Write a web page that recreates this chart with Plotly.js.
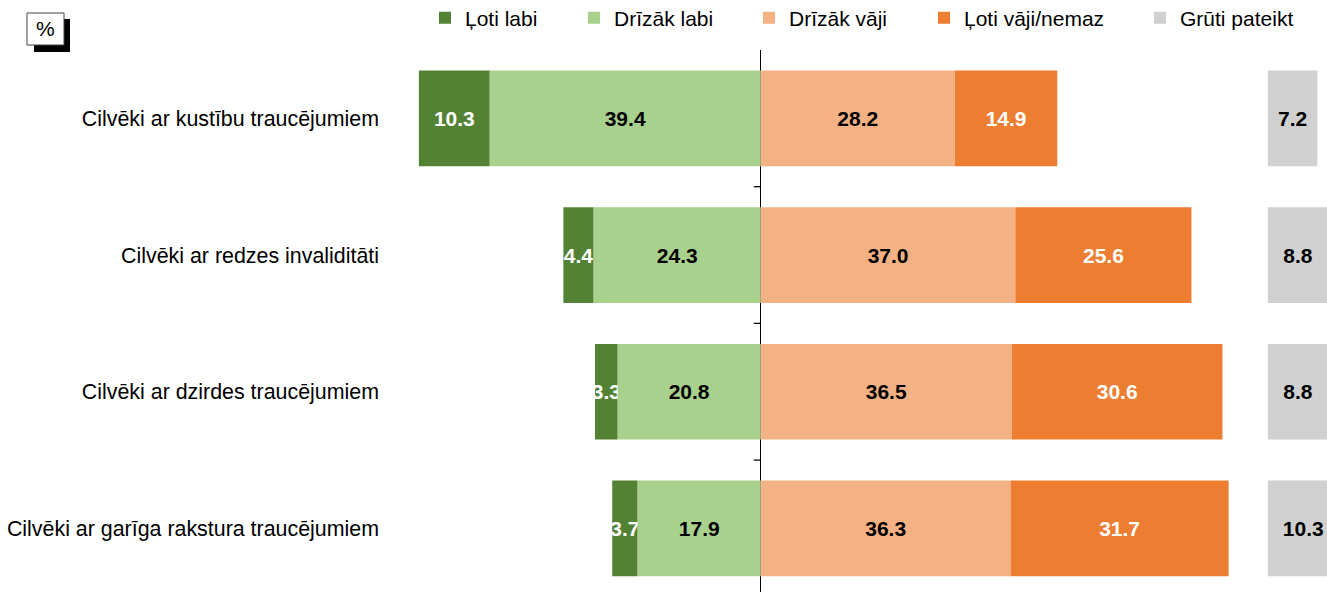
<!DOCTYPE html>
<html><head><meta charset="utf-8">
<script src="https://cdn.plot.ly/plotly-3.0.1.min.js"></script>
<style>html,body{margin:0;padding:0;background:#fff}#chart{width:1327px;height:592px}</style>
</head><body><div id="chart"></div>
<script>
const categories = ["Cilvēki ar kustību traucējumiem","Cilvēki ar redzes invaliditāti","Cilvēki ar dzirdes traucējumiem","Cilvēki ar garīga rakstura traucējumiem"];
const seriesNames = ["Ļoti labi","Drīzāk labi","Drīzāk vāji","Ļoti vāji/nemaz","Grūti pateikt"];
const lotiLabi = [10.3, 4.4, 3.3, 3.7];
const drizakLabi = [39.4, 24.3, 20.8, 17.9];
const drizakVaji = [28.2, 37.0, 36.5, 36.3];
const lotiVaji = [14.9, 25.6, 30.6, 31.7];
const grutiPateikt = [7.2, 8.8, 8.8, 10.3];

const W = 1327, H = 592;
const M = {l: 390, r: 0, t: 50, b: 0};
const PW = W - M.l - M.r, PH = H - M.t - M.b;
const XR = [-53.9, 82.3];
const GREY_BASE = 73.7;
const px2x = p => (p - M.l) / PW;
const py2y = p => (H - M.b - p) / PH;
const fmt = a => a.map(v => v.toFixed(1));
const neg = a => a.map(v => -v);
const FONT = 'Liberation Sans, Arial, sans-serif';
const colors = ['#548235','#A9D18E','#F4B183','#ED7D31','#D0D0D0'];
const txtCol = ['#ffffff','#000000','#000000','#ffffff','#000000'];

function bar(i, x, base, text, legendId) {
  return {
    type: 'bar', orientation: 'h', name: seriesNames[i], y: categories, x: x, base: base,
    text: text, texttemplate: '%{text}', textposition: 'inside', insidetextanchor: 'middle',
    textangle: 0, constraintext: 'none',
    textfont: {family: FONT, size: 21, color: txtCol[i], weight: 'bold'},
    insidetextfont: {family: FONT, size: 21, color: txtCol[i], weight: 'bold'},
    marker: {color: colors[i], line: {width: 0}},
    legend: legendId, hoverinfo: 'skip'
  };
}

const traces = [
  bar(0, neg(lotiLabi), neg(drizakLabi), fmt(lotiLabi), 'legend'),
  bar(1, neg(drizakLabi), categories.map(() => 0), fmt(drizakLabi), 'legend2'),
  bar(2, drizakVaji, categories.map(() => 0), fmt(drizakVaji), 'legend3'),
  bar(3, lotiVaji, drizakVaji, fmt(lotiVaji), 'legend4'),
  bar(4, grutiPateikt, categories.map(() => GREY_BASE), fmt(grutiPateikt), 'legend5')
];

const legendTextStart = [465, 614, 789, 964, 1180];
function leg(i) {
  return {
    xref: 'container', yref: 'container', x: (legendTextStart[i] - 40) / W, xanchor: 'left',
    y: 1 - 18 / H, yanchor: 'middle', orientation: 'h', bgcolor: 'rgba(0,0,0,0)', borderwidth: 0,
    font: {family: FONT, size: 21, color: '#000'}
  };
}

const shapes = [
  {type: 'rect', xref: 'paper', yref: 'paper', x0: px2x(34), x1: px2x(70), y0: py2y(19), y1: py2y(52), fillcolor: '#000', line: {width: 0}, layer: 'above'},
  {type: 'rect', xref: 'paper', yref: 'paper', x0: px2x(27), x1: px2x(64), y0: py2y(13), y1: py2y(45), fillcolor: '#fff', line: {width: 1, color: '#444'}, layer: 'above'}
];
[0.5, 1.5, 2.5].forEach(b => shapes.push({
  type: 'line', xref: 'x', yref: 'y', xsizemode: 'pixel', xanchor: 0, x0: -7, x1: 0, y0: b, y1: b,
  line: {color: '#000', width: 1.25}
}));

const layout = {
  width: W, height: H, margin: M, paper_bgcolor: '#fff', plot_bgcolor: '#fff',
  barmode: 'overlay', bargap: 0.3, showlegend: true,
  uniformtext: {mode: 'show', minsize: 21},
  font: {family: FONT, size: 21, color: '#000'},
  xaxis: {range: XR, showgrid: false, showline: false, showticklabels: false, ticks: '',
          zeroline: true, zerolinecolor: '#000', zerolinewidth: 1.25, fixedrange: true},
  yaxis: {type: 'category', categoryorder: 'array', categoryarray: categories,
          range: [3.465, -0.5], showgrid: false, showline: false, ticks: '', zeroline: false,
          tickfont: {family: FONT, size: 21.4, color: '#000'}, ticklabelstandoff: 10, automargin: false},
  legend: leg(0), legend2: leg(1), legend3: leg(2), legend4: leg(3), legend5: leg(4),
  shapes: shapes,
  annotations: [{xref: 'paper', yref: 'paper', x: px2x(45.5), y: py2y(29), text: '%', showarrow: false,
                 xanchor: 'center', yanchor: 'middle', font: {family: FONT, size: 21, color: '#000'}}]
};

Plotly.newPlot('chart', traces, layout, {displayModeBar: false, staticPlot: true});
</script></body></html>
